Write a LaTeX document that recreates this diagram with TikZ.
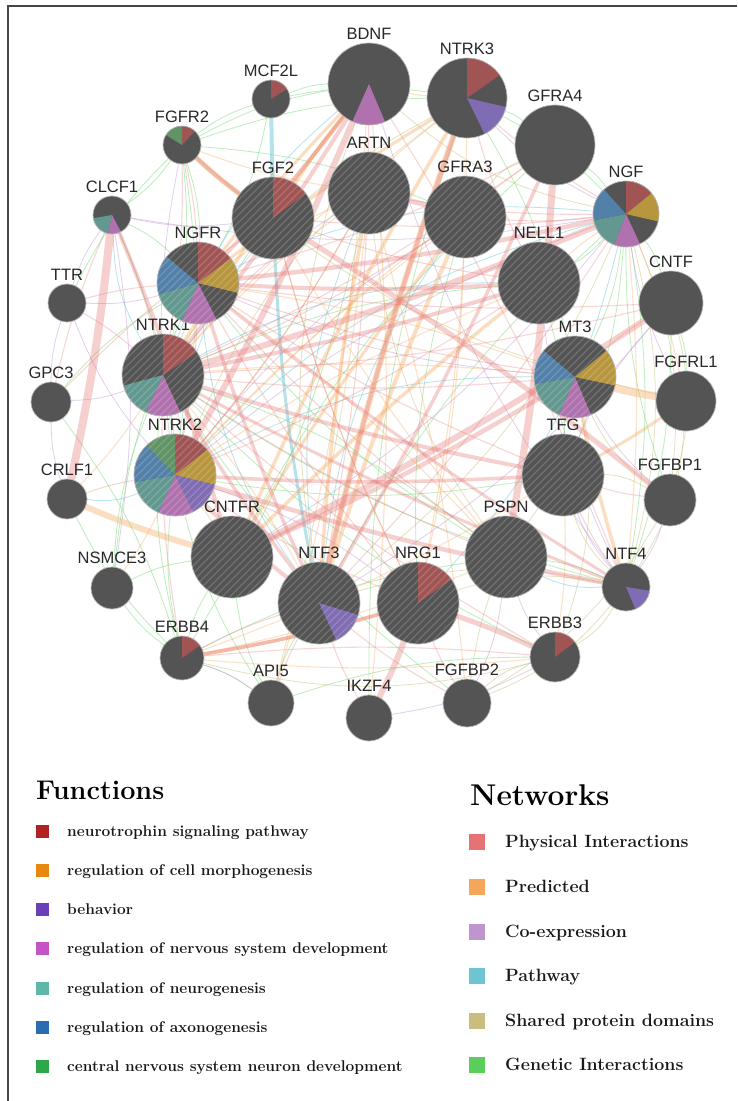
\documentclass[tikz,border=0pt]{standalone}
\usepackage{fontspec}
\newfontfamily\labfont{Liberation Sans}
\pgfdeclarelayer{edges}
\pgfsetlayers{edges,main}
\definecolor{dk}{RGB}{84,84,84}
\definecolor{sr}{RGB}{160,84,84}
\definecolor{sg}{RGB}{184,150,62}
\definecolor{sp}{RGB}{128,108,178}
\definecolor{sm}{RGB}{176,114,174}
\definecolor{st}{RGB}{98,152,144}
\definecolor{sb}{RGB}{82,128,168}
\definecolor{sgr}{RGB}{96,148,102}
\definecolor{lbc}{RGB}{40,40,40}
\definecolor{frm}{RGB}{70,70,70}
\definecolor{cph}{RGB}{232,122,122}
\definecolor{cpr}{RGB}{245,170,95}
\definecolor{cce}{RGB}{190,150,215}
\definecolor{cpw}{RGB}{110,200,215}
\definecolor{csd}{RGB}{205,195,130}
\definecolor{cge}{RGB}{110,215,110}
\definecolor{fa}{RGB}{178,34,34}
\definecolor{fb}{RGB}{230,137,14}
\definecolor{fc}{RGB}{106,64,184}
\definecolor{fd}{RGB}{196,84,196}
\definecolor{fe}{RGB}{95,184,167}
\definecolor{ff}{RGB}{43,108,176}
\definecolor{fg}{RGB}{46,166,74}
\definecolor{na}{RGB}{229,115,115}
\definecolor{nb}{RGB}{244,166,90}
\definecolor{nc}{RGB}{190,150,205}
\definecolor{nd}{RGB}{108,197,208}
\definecolor{ne}{RGB}{201,190,124}
\definecolor{nf}{RGB}{90,205,90}
\tikzset{
  gn/.style={circle, inner sep=0pt, outer sep=0pt, fill=dk},
  ring/.style={draw=gray!55, line width=0.7pt},
  hl/.style={draw=white, draw opacity=0.17, line width=1.1pt},
  lbl/.style={anchor=base, inner sep=0pt, font=\labfont\fontsize{16.5}{18}\selectfont, text=lbc},
  ph/.style={draw=cph, draw opacity=0.36, line width=#1pt}, ph/.default=1.2,
  pht/.style={draw=cph, draw opacity=0.3, line width=1.1pt},
  pr/.style={draw=cpr, draw opacity=0.38, line width=#1pt}, pr/.default=1.2,
  prt/.style={draw=cpr, draw opacity=0.34, line width=1.1pt},
  ce/.style={draw=cce, draw opacity=0.45, line width=0.8pt},
  pw/.style={draw=cpw, draw opacity=0.5, line width=#1pt}, pw/.default=0.8,
  sd/.style={draw=csd, draw opacity=0.5, line width=0.8pt},
  ge/.style={draw=cge, draw opacity=0.45, line width=0.8pt},
  fsq/.style={minimum size=13pt, inner sep=0pt, outer sep=0pt},
  nsq/.style={minimum size=16pt, inner sep=0pt, outer sep=0pt},
  ftx/.style={anchor=base west, inner sep=0pt, font=\bfseries\fontsize{15.5}{18}\selectfont, text=black!90},
  ntx/.style={anchor=base west, inner sep=0pt, font=\bfseries\fontsize{17.8}{20}\selectfont, text=black!90}
}
\newcommand\gnode[7]{%
  \node[gn, minimum size=#4*2pt] (#1) at (#2,-#3) {};
  \foreach \sa/\sb/\sc in {#7} {\fill[\sc] (#1.center) -- ++(\sa:#4) arc[start angle=\sa, end angle=\sb, radius=#4] -- cycle;}
  \ifnum#6=1
    \begin{scope}
      \clip (#1.center) circle[radius=#4];
      \foreach \k in {-16,...,16} \draw[hl] ([shift={(\k*7.5-60,-60)}]#1.center) -- ++(120,120);
    \end{scope}
  \fi
  \draw[ring] (#1.center) circle[radius=#4];
  \node[lbl] (#1-l) at ([yshift=3.5pt]#1.north) {#5};
}
\begin{document}
\begin{tikzpicture}[x=1pt,y=1pt]
\useasboundingbox (0,0) rectangle (737,-1101);
% ---------- nodes ----------
\gnode{BDNF}{369}{84}{41}{BDNF}{0}{246/293/sm}
\gnode{NTRK3}{467}{98}{40}{NTRK3}{0}{35/90/sr,-64/-13/sp}
\gnode{GFRA4}{555}{145}{40}{GFRA4}{0}{0/0/dk}
\gnode{ARTN}{369}{193}{41}{ARTN}{1}{0/0/dk}
\gnode{GFRA3}{465}{217}{41}{GFRA3}{1}{0/0/dk}
\gnode{NGF}{626}{214}{33}{NGF}{0}{39/90/sr,-13/39/sg,-111/-65/sm,-169/-111/st,132/191/sb}
\gnode{NELL1}{539}{283}{41}{NELL1}{1}{0/0/dk}
\gnode{CNTF}{671}{303}{32}{CNTF}{0}{0/0/dk}
\gnode{MT3}{575}{377}{41}{MT3}{1}{-12/40/sg,-113/-67/sm,-170/-113/st,140/190/sb}
\gnode{FGFRL1}{686}{401}{30}{FGFRL1}{0}{0/0/dk}
\gnode{TFG}{563}{475}{41}{TFG}{1}{0/0/dk}
\gnode{FGFBP1}{670}{500}{26}{FGFBP1}{0}{0/0/dk}
\gnode{PSPN}{506}{557}{41}{PSPN}{1}{0/0/dk}
\gnode{NTF4}{626}{587}{24}{NTF4}{0}{-67/-9/sp}
\gnode{NRG1}{418}{603}{41}{NRG1}{1}{35/90/sr}
\gnode{ERBB3}{555}{657}{25}{ERBB3}{0}{37/90/sr}
\gnode{FGFBP2}{467}{703}{24}{FGFBP2}{0}{0/0/dk}
\gnode{IKZF4}{369}{718}{23}{IKZF4}{0}{0/0/dk}
\gnode{API5}{271}{703}{23}{API5}{0}{0/0/dk}
\gnode{ERBB4}{182}{658}{22}{ERBB4}{0}{35/90/sr}
\gnode{NTF3}{319}{603}{41}{NTF3}{1}{-65/-17/sp}
\gnode{NSMCE3}{112}{588}{21}{NSMCE3}{0}{0/0/dk}
\gnode{CNTFR}{232}{557}{41}{CNTFR}{1}{0/0/dk}
\gnode{CRLF1}{67}{499}{20}{CRLF1}{0}{0/0/dk}
\gnode{NTRK2}{175}{475}{41}{NTRK2}{1}{38/90/sr,-14/38/sg,-64/-14/sp,-114/-64/sm,-170/-114/st,134/190/sb,90/134/sgr}
\gnode{GPC3}{51}{402}{20}{GPC3}{0}{0/0/dk}
\gnode{NTRK1}{163}{375}{41}{NTRK1}{1}{34/90/sr,-115/-65/sm,-165/-115/st}
\gnode{TTR}{67}{303}{19}{TTR}{0}{0/0/dk}
\gnode{CLCF1}{112}{215}{19}{CLCF1}{0}{190/258/st,258/298/sm}
\gnode{NGFR}{198}{283}{41}{NGFR}{1}{37/90/sr,-14/37/sg,-113/-63/sm,-164/-113/st,140/196/sb}
\gnode{FGF2}{273}{218}{41}{FGF2}{1}{37/90/sr}
\gnode{FGFR2}{182}{145}{19}{FGFR2}{0}{47/90/sr,90/148/sgr}
\gnode{MCF2L}{271}{99}{19}{MCF2L}{0}{32/90/sr}
% ---------- edges ----------
\begin{pgfonlayer}{edges}
\fill[white] (0,0) rectangle (737,-1101);
% genetic interactions
\foreach \a/\b in {FGFR2/BDNF, FGFR2/NTRK3, FGFR2/NGFR, FGFR2/NTRK1, FGFR2/CLCF1, FGFR2/NTRK2, FGFR2/MCF2L, FGFR2/GFRA3,
  MCF2L/NTRK3, MCF2L/NGFR, MCF2L/BDNF, ERBB4/API5, ERBB4/NSMCE3, ERBB4/NTRK2, ERBB4/CRLF1, ERBB4/NTRK1, ERBB4/PSPN,
  ERBB4/CNTFR, API5/NTF3, API5/NTRK2, API5/CNTFR, NSMCE3/NTRK1, NSMCE3/NGFR, NGF/MT3, NGF/TFG, NGF/NTF4, NGF/NELL1,
  NGF/CNTF, CNTF/FGFRL1, NTRK3/GFRA4, NTRK3/NGF, GFRA4/NGF, PSPN/NTF4, PSPN/NGFR, NTF4/NTRK1, TFG/NTRK2, FGFBP2/NTRK1,
  CLCF1/NGFR, CLCF1/NTRK2, NTF3/NGF, NRG1/GFRA3, IKZF4/NTRK3, FGFBP1/NGF, ERBB3/NTRK1, GPC3/ERBB4, NTRK1/NELL1,
  CNTFR/GFRA4, ARTN/ERBB4, GPC3/NGFR, TTR/FGFR2, NTRK3/MT3, NELL1/TFG, CNTF/NTF4, NTRK1/PSPN, API5/ERBB3, NSMCE3/CNTFR}
  \draw[ge] (\a) to[bend left=9] (\b);
% co-expression
\foreach \a/\b in {TTR/GPC3, GPC3/CRLF1, TTR/NTRK2, CLCF1/TTR, CLCF1/FGF2, NGF/FGFRL1, CNTF/TFG, NTRK3/NGF, NTF4/FGFBP1,
  TFG/NTF4, PSPN/ERBB3, NRG1/NTRK2, NTF3/CNTF, ARTN/NTRK1, GFRA3/NTRK2, NGFR/MT3, API5/ERBB4, FGFBP2/PSPN, NSMCE3/CLCF1,
  GPC3/NTRK1, CNTFR/NGF, IKZF4/ERBB3, MT3/FGFBP1, BDNF/NTF4, FGFR2/NTRK2, NGF/NTRK2, NELL1/NTF4, TTR/NGFR, CLCF1/NGF}
  \draw[ce] (\a) to[bend right=9] (\b);
% shared protein domains
\foreach \a/\b in {NTF4/ERBB3, NTF4/FGFBP2, NTF4/TFG, TFG/FGFBP1, FGFBP2/ERBB3, NRG1/NTF4, NGF/NTF4, NGF/NTF3, NGF/BDNF,
  NTF3/BDNF, NTF3/NTF4, NTRK1/NTRK2, NTRK2/NTRK3, NTRK1/NTRK3, ERBB3/ERBB4, GFRA3/GFRA4, FGFBP1/FGFBP2, MT3/ERBB3,
  FGFRL1/FGFR2, FGFBP1/MT3, PSPN/ARTN, NGF/FGFBP1, CNTF/FGFBP1, FGFRL1/NTF4, FGFBP2/TFG}
  \draw[sd] (\a) to[bend left=14] (\b);
% pathway
\foreach \a/\b in {NGF/NTRK2, GFRA3/NTF3, CRLF1/NTRK2, NGFR/NTF3, NELL1/NTRK1, BDNF/NTRK1, ARTN/NTF3, NRG1/NGF,
  PSPN/NTF4, FGF2/NTRK2, MT3/NTRK2, NGF/NGFR, CLCF1/NTRK1}
  \draw[pw] (\a) to[bend right=14] (\b);
\draw[pw=4] (MCF2L) -- (FGF2);
\draw[pw=3] (FGF2) to[bend right=4] (NTF3);
% predicted
\foreach \a/\b in {ERBB4/ERBB3, ERBB4/PSPN, ERBB4/TFG, API5/BDNF, API5/ARTN, NSMCE3/NTRK2, CRLF1/NTRK1, GFRA3/NTRK2,
  ARTN/NTRK1, ARTN/NGFR, NELL1/NTRK2, BDNF/NTRK3, NTRK3/NTRK1, FGF2/NRG1, FGF2/PSPN, NRG1/GFRA3, NRG1/NTRK3, PSPN/NGFR,
  MT3/NTRK1, MT3/NGFR, NGF/NELL1, FGFBP2/ARTN, IKZF4/BDNF, NTF4/NGF, CNTF/MT3, FGFRL1/NGF, ERBB3/TFG, GFRA4/NTRK2,
  FGFR2/ARTN, NTRK2/ARTN, NTF3/NTRK1, CNTFR/NTRK2}
  \draw[prt] (\a) to[bend right=5] (\b);
\foreach \a/\b/\w in {BDNF/FGF2/3.5, BDNF/NTRK1/3.5, GFRA3/NTF3/4, ARTN/NTF3/3.5, NTRK3/CNTFR/3.5, ERBB4/NRG1/3.5,
  MT3/NTF4/3.5, NELL1/CNTFR/3.5, BDNF/NGFR/3, NTRK3/NGFR/3, GFRA3/CNTFR/3, TFG/FGFRL1/3, FGFR2/FGF2/5,
  CRLF1/CNTFR/6, MT3/FGFRL1/8, NTRK3/NTF3/6}
  \draw[pr=\w] (\a) to[bend right=3] (\b);
% physical interactions
\foreach \a/\b in {NGFR/NTRK1, NGFR/NTRK2, NTRK1/NTRK2, BDNF/NTF3, BDNF/NTF4, NGF/NTF3, ARTN/NTRK2, GFRA3/NTRK1,
  ERBB4/ERBB3, ERBB3/NTRK1, FGFR2/NTRK1, FGFR2/NGFR, CLCF1/NTRK1, TTR/NGFR, TTR/NTRK1, GPC3/FGF2, CRLF1/NTRK2,
  NGF/NTRK3, NGF/GFRA3, NGF/ARTN, NELL1/NTRK2, NELL1/FGF2, MT3/NGFR, MT3/NTRK1, CNTF/NTRK1, CNTF/NGFR, TFG/NGFR,
  PSPN/NTRK1, PSPN/NGFR, NRG1/NTRK2, NRG1/NGFR, NRG1/FGF2, FGFBP2/NRG1, FGFBP2/NTF3, ERBB4/NTF3, ERBB4/NTRK1,
  FGFBP1/TFG, NTF4/TFG, IKZF4/NTF3, API5/NTF3, GPC3/CLCF1, GFRA4/NTRK1, GFRA4/NGFR, NGF/FGF2, NELL1/NTRK3}
  \draw[pht] (\a) to[bend left=5] (\b);
\foreach \a/\b/\w in {CLCF1/CNTFR/4, BDNF/NGFR/4, NGF/NGFR/4.5, NTF3/NTRK2/4, NTF3/NTRK1/3.5, NTF3/NGFR/3.5,
  NTF4/NTRK2/4.5, NTF4/NGFR/3, ARTN/GFRA3/5, TFG/NTRK1/4, NRG1/ERBB4/3.5, BDNF/NTRK1/4, NTF4/NTRK1/3,
  NTF3/NTRK3/4, NELL1/NTRK1/4, NELL1/NGFR/4, MT3/CNTFR/4.5, TFG/NTRK2/3.5, GFRA4/NTF3/3.5, FGF2/FGFR2/4,
  CLCF1/CRLF1/8, BDNF/NTRK2/6, NGF/NTRK1/6, CNTF/CNTFR/6, GFRA4/PSPN/7, NRG1/ERBB3/5, NRG1/IKZF4/6, FGF2/FGFBP1/5}
  \draw[ph=\w] (\a) to[bend left=3] (\b);
\end{pgfonlayer}
% ---------- frame ----------
\coordinate (fbl) at (8,-1101);
\coordinate (ftl) at (8,-6);
\coordinate (ftr) at (737,-6);
\draw[frm, line width=1.8pt] (fbl) -- (ftl) -- (ftr);
% ---------- legend: functions ----------
\node[anchor=base west, inner sep=0pt, font=\bfseries\fontsize{27}{30}\selectfont] (fh) at (36,-799) {Functions};
\foreach \c/\y/\t [count=\i] in {fa/831/neurotrophin signaling pathway, fb/870/regulation of cell morphogenesis,
  fc/909/behavior, fd/948/regulation of nervous system development, fe/988/regulation of neurogenesis,
  ff/1027/regulation of axonogenesis, fg/1066/central nervous system neuron development}{
  \node[fsq, fill=\c] (fs\i) at (42.5,-\y) {};
  \node[ftx] (ft\i) at (67,-\y-5) {\t};
}
% ---------- legend: networks ----------
\node[anchor=base west, inner sep=0pt, font=\bfseries\fontsize{30}{32}\selectfont] (nh) at (470,-805) {Networks};
\foreach \c/\y/\t [count=\i] in {na/842/Physical Interactions, nb/887/Predicted, nc/932/Co-expression,
  nd/976/Pathway, ne/1021/Shared protein domains, nf/1065/Genetic Interactions}{
  \node[nsq, fill=\c] (ns\i) at (477,-\y) {};
  \node[ntx] (nt\i) at (505,-\y-5.5) {\t};
}
\end{tikzpicture}
\end{document}
